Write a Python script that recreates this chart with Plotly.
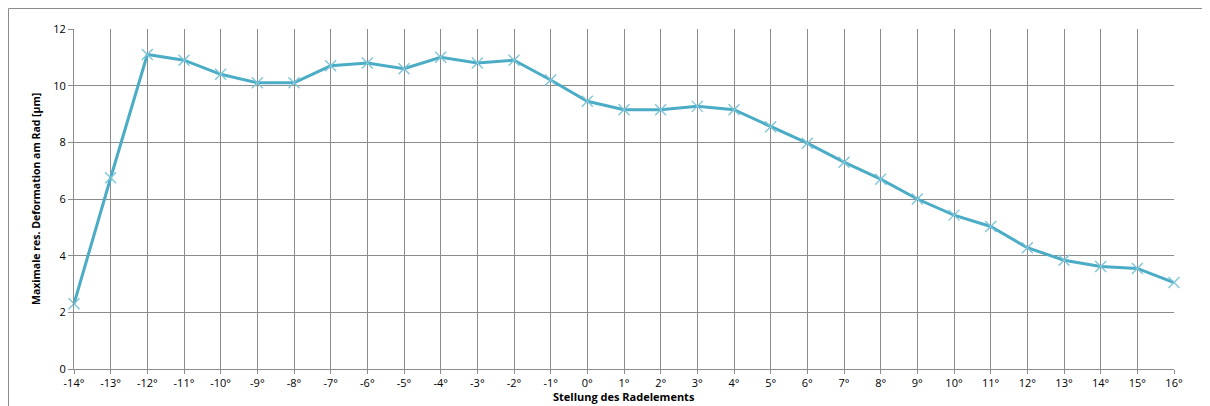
import plotly.graph_objects as go

angles = list(range(-14, 17))
labels = [f"{a}°" for a in angles]
deformation = [2.3, 6.75, 11.1, 10.9, 10.4, 10.1, 10.1, 10.7, 10.8, 10.6, 11.0, 10.8, 10.9,
               10.2, 9.45, 9.15, 9.15, 9.27, 9.15, 8.55, 7.97, 7.3, 6.7, 6.0, 5.43, 5.03,
               4.28, 3.84, 3.62, 3.55, 3.05]
y_ticks = [0, 2, 4, 6, 8, 10, 12]

x_title = "Stellung des Radelements"
y_title = "Maximale res. Deformation am Rad [µm]"

GRID = "#8C8C8C"
OFF = 8  # page body margin
W, H = 1210 - OFF, 406 - OFF
L, T = 74 - OFF, 29 - OFF
R = W - (1174 - OFF)
B = H - (369 - OFF)
pw, ph = W - L - R, H - T - B


def fx(p):  # figure pixel -> paper x
    return (p - L) / pw


def fy(p):  # figure pixel -> paper y
    return (H - B - p) / ph


fig = go.Figure()
fig.add_trace(go.Scatter(
    x=angles, y=deformation, mode="lines+markers",
    line=dict(color="#4BACC6", width=3),
    marker=dict(symbol="x-thin", size=11, line=dict(color="#7CC4D8", width=1.3), color="#7CC4D8"),
    cliponaxis=False, showlegend=False,
))

fig.update_layout(
    width=W, height=H,
    margin=dict(l=L, r=R, t=T, b=B, autoexpand=False),
    paper_bgcolor="white", plot_bgcolor="white",
    font=dict(family="Open Sans, DejaVu Sans, sans-serif", color="#000000"),
    xaxis=dict(
        range=[-14, 16], tickmode="array", tickvals=angles, ticktext=labels,
        showgrid=True, gridcolor=GRID, gridwidth=1,
        showline=True, linecolor=GRID, linewidth=1,
        ticks="outside", ticklen=4, tickcolor=GRID,
        tickfont=dict(size=11, color="#000000"), zeroline=False, automargin=False,
    ),
    yaxis=dict(
        range=[0, 12], tickmode="array", tickvals=y_ticks,
        showgrid=True, gridcolor=GRID, gridwidth=1,
        showline=True, linecolor=GRID, linewidth=1,
        ticks="outside", ticklen=5, tickcolor=GRID,
        tickfont=dict(size=11, color="#000000"), zeroline=False, automargin=False,
    ),
    annotations=[
        dict(text=f"<b>{x_title}</b>", xref="paper", yref="paper", x=0.5, y=0,
             xanchor="center", yanchor="bottom", yshift=-B, showarrow=False,
             font=dict(size=11, color="#000000")),
        dict(text=f"<b>{y_title}</b>", xref="paper", yref="paper", x=0, y=0.5,
             xanchor="center", yanchor="middle", xshift=-38, textangle=-90, showarrow=False,
             font=dict(size=10.5, color="#000000")),
    ],
    shapes=[
        dict(type="line", xref="paper", yref="paper",
             x0=fx(0.5), x1=fx(0.5), y0=fy(0.5), y1=fy(H), line=dict(color=GRID, width=1)),
        dict(type="line", xref="paper", yref="paper",
             x0=fx(0.5), x1=fx(W - 4), y0=fy(0.5), y1=fy(0.5), line=dict(color=GRID, width=1)),
    ],
)

fig.write_html("out.html")
